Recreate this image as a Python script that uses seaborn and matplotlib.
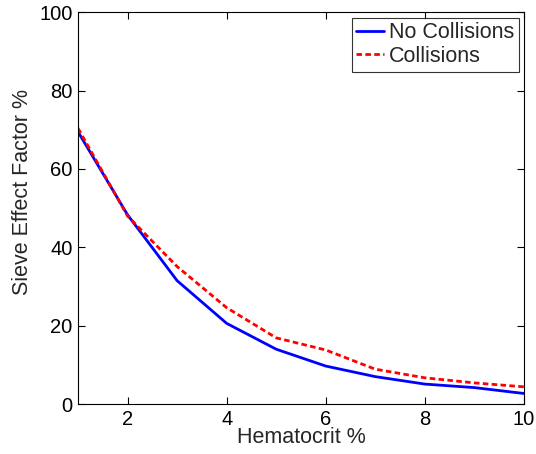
import numpy as np
import pandas as pd
import seaborn as sns
import matplotlib.pyplot as plt

# Values
hematocrit = [1, 2, 3, 4, 5, 6, 7, 8, 9, 10]
no_collisions = [69.5, 48.3, 31.5, 20.6, 14.0, 9.7, 7.0, 5.1, 4.2, 2.7]
collisions = [70.4, 48.0, 35.1, 24.6, 16.9, 13.8, 8.9, 6.7, 5.4, 4.4]

sns.set_style('white')
plt.rcParams['font.family'] = ['Liberation Sans', 'DejaVu Sans']
plt.rcParams['font.size'] = 14.5
plt.rcParams['xtick.direction'] = 'in'
plt.rcParams['ytick.direction'] = 'in'

df = pd.DataFrame({
    'Hematocrit': hematocrit * 2,
    'value': no_collisions + collisions,
    'series': ['No Collisions'] * len(hematocrit) + ['Collisions'] * len(hematocrit),
})

fig = plt.figure(figsize=(5.36, 4.54), dpi=100)
ax = fig.add_axes([0.1455, 0.110, 0.832, 0.863])

sns.lineplot(data=df, x='Hematocrit', y='value', hue='series', style='series',
             palette={'No Collisions': 'blue', 'Collisions': 'red'},
             dashes={'No Collisions': '', 'Collisions': (2, 1.2)},
             linewidth=2, ax=ax)

ax.set_xlim(1, 10)
ax.set_ylim(0, 100)
ax.set_xticks([2, 4, 6, 8, 10])
ax.set_yticks([0, 20, 40, 60, 80, 100])
ax.set_xlabel('Hematocrit %', labelpad=-1, fontsize=15.5)
ax.set_ylabel('Sieve Effect Factor %', fontsize=15.5)
ax.yaxis.set_label_coords(-0.1, 0.54)
ax.tick_params(axis='both', which='both', direction='in', length=5, width=0.8,
               top=True, right=True, bottom=True, left=True, labelsize=14.5,
               colors='black', pad=4)
for s in ax.spines.values():
    s.set_color('black')
    s.set_linewidth(0.8)

leg = ax.legend(loc='upper right', frameon=True, fancybox=False, edgecolor='black',
                handlelength=1.3, handletextpad=0.2, borderaxespad=0.25,
                borderpad=0.22, labelspacing=0.12, fontsize=15.5)
leg.get_frame().set_linewidth(0.8)
leg.set_title(None)

fig.savefig('out.png', dpi=100)
